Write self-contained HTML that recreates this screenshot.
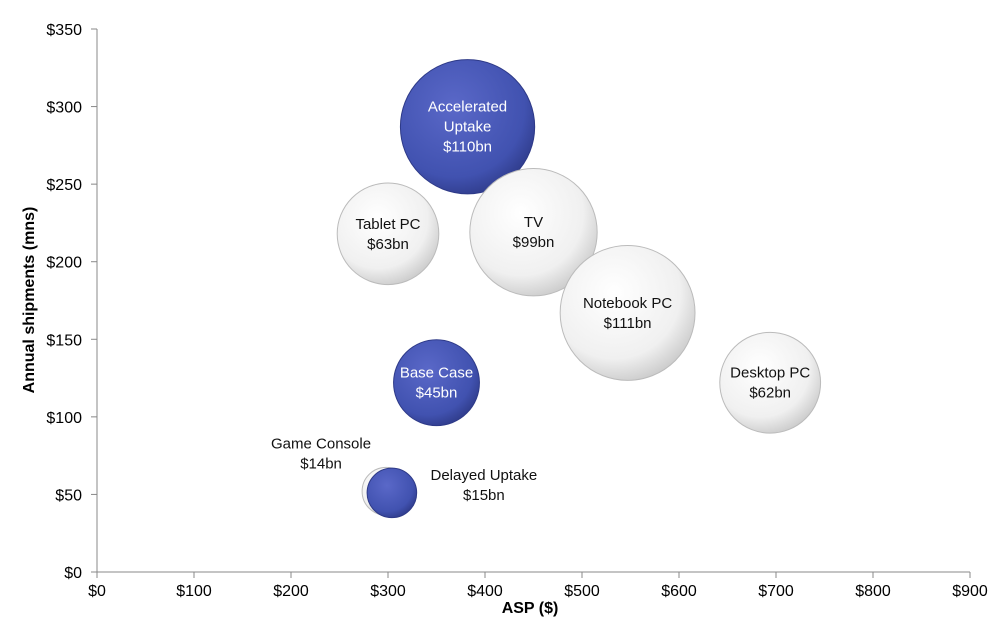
<!DOCTYPE html>
<html><head><meta charset="utf-8"><style>
body{margin:0;background:#fff;font-family:"Liberation Sans",sans-serif}
svg{display:block}
</style></head><body>
<svg id="chart" width="1000" height="621" viewBox="0 0 1000 621">
<defs>
<radialGradient id="gw" cx="0.4" cy="0.35" r="0.7"><stop offset="0" stop-color="#ffffff"/><stop offset="0.7" stop-color="#f0f0f0"/><stop offset="1" stop-color="#c8c8c8"/></radialGradient>
<radialGradient id="gb" cx="0.4" cy="0.35" r="0.7"><stop offset="0" stop-color="#5a68c8"/><stop offset="0.75" stop-color="#4152b0"/><stop offset="1" stop-color="#2e3a88"/></radialGradient>
</defs>
<g id="axes"></g>
<g id="bubbles"></g>
<text x="530" y="613" text-anchor="middle" font-size="16" font-weight="bold">ASP ($)</text>
<text transform="translate(34,300) rotate(-90)" text-anchor="middle" font-size="16" font-weight="bold">Annual shipments (mns)</text>
</svg>
<script>
const names=["Accelerated Uptake","Tablet PC","TV","Notebook PC","Desktop PC","Base Case","Game Console","Delayed Uptake"];
const labels=["$110bn","$63bn","$99bn","$111bn","$62bn","$45bn","$14bn","$15bn"];
const asp=[382,300,450,547,694,350,298,304];
const ships=[287,218,219,167,122,122,52,51];
const revenue=[110,63,99,111,62,45,14,15];
const blue=[true,false,false,false,false,true,false,true];
const xTicks=[0,100,200,300,400,500,600,700,800,900];
const yTicks=[0,50,100,150,200,250,300,350];
const NS="http://www.w3.org/2000/svg";
const X=v=>97+v*(873/900), Y=v=>572-v*(543/350), R=v=>6.4*Math.sqrt(v);
function mk(t,a,p){const e=document.createElementNS(NS,t);for(const k in a)e.setAttribute(k,a[k]);p.appendChild(e);return e;}
const ax=document.getElementById('axes');
let l=mk('line',{x1:97,y1:29,x2:97,y2:572,stroke:'#888','stroke-width':1},ax);


l=mk('line',{x1:97,y1:572,x2:970,y2:572,stroke:'#888','stroke-width':1},ax);


yTicks.forEach(v=>{mk('line',{x1:91,x2:97,y1:Y(v),y2:Y(v),stroke:'#888'},ax);
const t=mk('text',{x:82,y:Y(v)+6,'text-anchor':'end','font-size':16},ax);t.textContent='$'+v;

});
xTicks.forEach(v=>{mk('line',{x1:X(v),x2:X(v),y1:572,y2:578,stroke:'#888'},ax);
const t=mk('text',{x:X(v),y:596,'text-anchor':'middle','font-size':16},ax);t.textContent='$'+v;

});
const bg=document.getElementById('bubbles');
const order=[6,7,1,0,2,3,4,5];
order.forEach(i=>{
 const cx=X(asp[i]),cy=Y(ships[i]),r=R(revenue[i]);
 const c=mk('circle',{cx,cy,r,fill:blue[i]?'url(#gb)':'url(#gw)',stroke:blue[i]?'#2e3a88':'#bbb','stroke-width':1},bg);
 
 
 let lines=(i==0)?["Accelerated","Uptake",labels[i]]:[names[i],labels[i]];
 let tx=cx,ty=cy,anchor='middle';
 if(i==6){tx=cx-65;ty=cy-38;}
 if(i==7){tx=cx+92;ty=cy-8;}
 const lh=20,start=ty-(lines.length-1)*lh/2+5;
 lines.forEach((s,k)=>{const t=mk('text',{x:tx,y:start+k*lh,'text-anchor':anchor,'font-size':15,fill:(blue[i]&&i!=7)?'#fff':'#111'},bg);t.textContent=s;
 
 });
});
</script>
</body></html>
